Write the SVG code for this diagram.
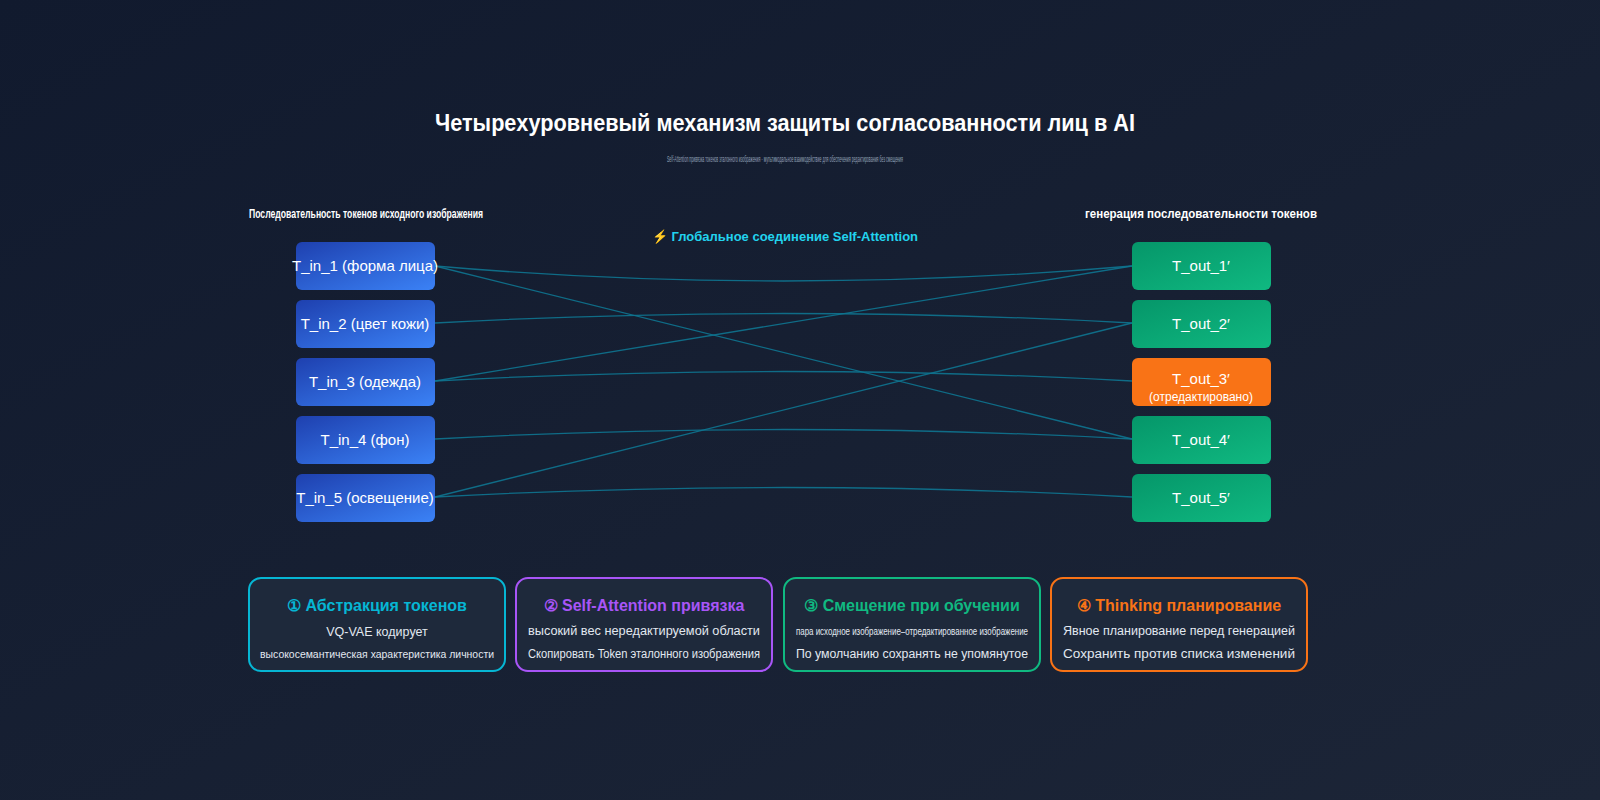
<svg xmlns="http://www.w3.org/2000/svg" width="1600" height="800" viewBox="0 0 1600 800">
<defs>
<linearGradient id="bg" x1="0" y1="0" x2="1" y2="1"><stop offset="0" stop-color="#111a2e"/><stop offset="1" stop-color="#1c2537"/></linearGradient>
<linearGradient id="gin" x1="0" y1="0" x2="1" y2="1"><stop offset="0" stop-color="#1e40af"/><stop offset="1" stop-color="#3b82f6"/></linearGradient>
<linearGradient id="gout" x1="0" y1="0" x2="1" y2="1"><stop offset="0" stop-color="#059669"/><stop offset="1" stop-color="#10b981"/></linearGradient>
<linearGradient id="gor" x1="0" y1="0" x2="1" y2="1"><stop offset="0" stop-color="#f97316"/><stop offset="1" stop-color="#f97316"/></linearGradient>
</defs>
<style>
text{font-family:"Liberation Sans",Arial,sans-serif;text-anchor:middle}
.nt{fill:#fff;font-size:15px}
.card{fill:#1e293b;stroke-width:2}
.c{fill:none;stroke:#0e7490;stroke-width:1.3;opacity:0.9}
.ct{font-size:16px;font-weight:bold}
.cl{fill:#e2e8f0;font-size:12.5px}
.cs{fill:#e2e8f0;font-size:11px}
</style>
<rect width="1600" height="800" fill="url(#bg)"/>
<text x="785" y="131" fill="#fff" font-size="24" font-weight="bold" textLength="700" lengthAdjust="spacingAndGlyphs">Четырехуровневый механизм защиты согласованности лиц в AI</text>
<text x="785" y="162" fill="#94a3b8" font-size="9" textLength="236" lengthAdjust="spacingAndGlyphs">Self-Attention привязка токенов эталонного изображения · мультимодальное взаимодействие для обеспечения редактирования без смещения</text>
<text x="366" y="218" fill="#fff" font-size="13" font-weight="bold" textLength="234" lengthAdjust="spacingAndGlyphs">Последовательность токенов исходного изображения</text>
<text x="1201" y="218" fill="#fff" font-size="13" font-weight="bold" textLength="232" lengthAdjust="spacingAndGlyphs">генерация последовательности токенов</text>
<text x="785" y="241" fill="#22d3ee" font-size="13" font-weight="bold">⚡ Глобальное соединение Self-Attention</text>
<g id="connectors">
<path class="c" d="M435 266 Q784 296 1132 266"/>
<path class="c" d="M435 266 L1132 439"/>
<path class="c" d="M435 323 Q784 304 1132 323"/>
<path class="c" d="M435 381 L1132 266"/>
<path class="c" d="M435 381 Q784 362 1132 381"/>
<path class="c" d="M435 439 Q784 420 1132 439"/>
<path class="c" d="M435 497 L1132 323"/>
<path class="c" d="M435 497 Q784 478 1132 497"/>
</g>
<g id="in1"><rect x="296" y="242" width="139" height="48" rx="6" fill="url(#gin)"/><text class="nt" x="365" y="271">T_in_1 (форма лица)</text></g>
<g id="in2"><rect x="296" y="300" width="139" height="48" rx="6" fill="url(#gin)"/><text class="nt" x="365" y="329">T_in_2 (цвет кожи)</text></g>
<g id="in3"><rect x="296" y="358" width="139" height="48" rx="6" fill="url(#gin)"/><text class="nt" x="365" y="387">T_in_3 (одежда)</text></g>
<g id="in4"><rect x="296" y="416" width="139" height="48" rx="6" fill="url(#gin)"/><text class="nt" x="365" y="445">T_in_4 (фон)</text></g>
<g id="in5"><rect x="296" y="474" width="139" height="48" rx="6" fill="url(#gin)"/><text class="nt" x="365" y="503">T_in_5 (освещение)</text></g>
<g id="out1"><rect x="1132" y="242" width="139" height="48" rx="6" fill="url(#gout)"/><text class="nt" x="1201" y="271">T_out_1′</text></g>
<g id="out2"><rect x="1132" y="300" width="139" height="48" rx="6" fill="url(#gout)"/><text class="nt" x="1201" y="329">T_out_2′</text></g>
<g id="out3"><rect x="1132" y="358" width="139" height="48" rx="6" fill="url(#gor)"/><text class="nt" x="1201" y="384">T_out_3′</text><text x="1201" y="401" fill="#fff" font-size="12">(отредактировано)</text></g>
<g id="out4"><rect x="1132" y="416" width="139" height="48" rx="6" fill="url(#gout)"/><text class="nt" x="1201" y="445">T_out_4′</text></g>
<g id="out5"><rect x="1132" y="474" width="139" height="48" rx="6" fill="url(#gout)"/><text class="nt" x="1201" y="503">T_out_5′</text></g>
<g id="card1"><rect class="card" x="249" y="578" width="256" height="93" rx="12" stroke="#06b6d4"/><text class="ct" x="377" y="611" fill="#06b6d4">① Абстракция токенов</text><text class="cl" x="377" y="636">VQ-VAE кодирует</text><text class="cs" x="377" y="658" textLength="234" lengthAdjust="spacingAndGlyphs">высокосемантическая характеристика личности</text></g>
<g id="card2"><rect class="card" x="516" y="578" width="256" height="93" rx="12" stroke="#a855f7"/><text class="ct" x="644" y="611" fill="#a855f7">② Self-Attention привязка</text><text class="cl" x="644" y="635" textLength="232" lengthAdjust="spacingAndGlyphs">высокий вес нередактируемой области</text><text class="cl" x="644" y="658" textLength="232" lengthAdjust="spacingAndGlyphs">Скопировать Token эталонного изображения</text></g>
<g id="card3"><rect class="card" x="784" y="578" width="256" height="93" rx="12" stroke="#10b981"/><text class="ct" x="912" y="611" fill="#10b981">③ Смещение при обучении</text><text class="cs" x="912" y="635" textLength="232" lengthAdjust="spacingAndGlyphs">пара исходное изображение–отредактированное изображение</text><text class="cl" x="912" y="658" textLength="232" lengthAdjust="spacingAndGlyphs">По умолчанию сохранять не упомянутое</text></g>
<g id="card4"><rect class="card" x="1051" y="578" width="256" height="93" rx="12" stroke="#f97316"/><text class="ct" x="1179" y="611" fill="#f97316">④ Thinking планирование</text><text class="cl" x="1179" y="635" textLength="232" lengthAdjust="spacingAndGlyphs">Явное планирование перед генерацией</text><text class="cl" x="1179" y="658" textLength="232" lengthAdjust="spacingAndGlyphs">Сохранить против списка изменений</text></g>
</svg>
